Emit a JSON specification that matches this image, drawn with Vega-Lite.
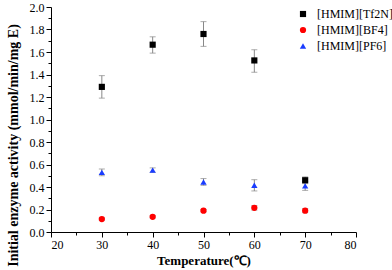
{
  "$schema": "https://vega.github.io/schema/vega-lite/v6.json",
  "width": 305,
  "height": 225,
  "autosize": {"type": "none"},
  "padding": {"left": 51, "top": 7, "right": 36, "bottom": 38},
  "background": "white",
  "config": {
    "view": {"stroke": null},
    "font": "Liberation Serif",
    "axis": {"labelFont": "Liberation Serif", "titleFont": "Liberation Serif", "labelFontSize": 12, "titleFontSize": 13, "titleFontWeight": "bold", "domainColor": "#000", "tickColor": "#000", "labelColor": "#000", "titleColor": "#000", "grid": false, "domainWidth": 1, "tickWidth": 1},
    "legend": {"labelFont": "Liberation Serif", "labelFontSize": 12, "labelColor": "#000"}
  },
  "resolve": {"axis": {"x": "independent", "y": "independent"}},
  "data": {"values": [
    {"t": 30, "s": "[HMIM][Tf2N]", "v": 1.29, "lo": 1.19, "hi": 1.39},
    {"t": 40, "s": "[HMIM][Tf2N]", "v": 1.665, "lo": 1.59, "hi": 1.735},
    {"t": 50, "s": "[HMIM][Tf2N]", "v": 1.76, "lo": 1.65, "hi": 1.87},
    {"t": 60, "s": "[HMIM][Tf2N]", "v": 1.525, "lo": 1.42, "hi": 1.62},
    {"t": 70, "s": "[HMIM][Tf2N]", "v": 0.46, "lo": 0.43, "hi": 0.49},
    {"t": 30, "s": "[HMIM][BF4]", "v": 0.115, "lo": 0.105, "hi": 0.125},
    {"t": 40, "s": "[HMIM][BF4]", "v": 0.135, "lo": 0.125, "hi": 0.145},
    {"t": 50, "s": "[HMIM][BF4]", "v": 0.19, "lo": 0.18, "hi": 0.2},
    {"t": 60, "s": "[HMIM][BF4]", "v": 0.215, "lo": 0.195, "hi": 0.235},
    {"t": 70, "s": "[HMIM][BF4]", "v": 0.19, "lo": 0.172, "hi": 0.208},
    {"t": 30, "s": "[HMIM][PF6]", "v": 0.53, "lo": 0.5, "hi": 0.56},
    {"t": 40, "s": "[HMIM][PF6]", "v": 0.55, "lo": 0.53, "hi": 0.57},
    {"t": 50, "s": "[HMIM][PF6]", "v": 0.445, "lo": 0.415, "hi": 0.475},
    {"t": 60, "s": "[HMIM][PF6]", "v": 0.415, "lo": 0.365, "hi": 0.465},
    {"t": 70, "s": "[HMIM][PF6]", "v": 0.41, "lo": 0.37, "hi": 0.45}
  ]},
  "layer": [
    {
      "mark": {"type": "rule", "color": "#888", "strokeWidth": 1},
      "encoding": {
        "x": {"field": "t", "type": "quantitative", "scale": {"domain": [20, 80], "nice": false, "zero": false},
          "axis": {"orient": "bottom", "title": null, "labels": false, "domain": false, "tickSize": 3, "values": [25,35,45,55,65,75]}},
        "y": {"field": "lo", "type": "quantitative", "scale": {"domain": [0, 2], "nice": false, "zero": false},
          "axis": {"orient": "left", "title": null, "labels": false, "domain": false, "tickSize": 3, "values": [0.1,0.3,0.5,0.7,0.9,1.1,1.3,1.5,1.7,1.9]}},
        "y2": {"field": "hi"}
      }
    },
    {
      "mark": {"type": "tick", "color": "#888", "orient": "horizontal", "size": 6, "thickness": 1},
      "encoding": {
        "x": {"field": "t", "type": "quantitative", "axis": null},
        "y": {"field": "lo", "type": "quantitative", "axis": null}
      }
    },
    {
      "mark": {"type": "tick", "color": "#888", "orient": "horizontal", "size": 6, "thickness": 1},
      "encoding": {
        "x": {"field": "t", "type": "quantitative", "axis": null},
        "y": {"field": "hi", "type": "quantitative", "axis": null}
      }
    },
    {
      "mark": {"type": "point", "filled": true, "opacity": 1},
      "encoding": {
        "x": {"field": "t", "type": "quantitative",
          "axis": {"orient": "bottom", "title": "Temperature(℃)", "values": [20,30,40,50,60,70,80], "tickSize": 5, "labelPadding": 2, "titlePadding": 4}},
        "y": {"field": "v", "type": "quantitative",
          "axis": {"orient": "left", "title": "Initial enzyme  activity (mmol/min/mg E)", "values": [0,0.2,0.4,0.6,0.8,1.0,1.2,1.4,1.6,1.8,2.0], "format": ".1f", "tickSize": 5,
            "labelPadding": 2, "titleFontSize": 14, "titleY": 138, "titleX": -31}},
        "color": {"field": "s", "type": "nominal",
          "scale": {"domain": ["[HMIM][Tf2N]", "[HMIM][BF4]", "[HMIM][PF6]"], "range": ["#000000", "#ff0000", "#1a3cff"]},
          "legend": {"title": null, "orient": "none", "legendX": 246, "legendY": 1, "rowPadding": 4, "labelOffset": 8}},
        "shape": {"field": "s", "type": "nominal",
          "scale": {"domain": ["[HMIM][Tf2N]", "[HMIM][BF4]", "[HMIM][PF6]"], "range": ["square", "circle", "triangle-up"]},
          "legend": {"title": null, "orient": "none", "legendX": 246, "legendY": 1, "rowPadding": 4, "labelOffset": 8}},
        "size": {"field": "s", "type": "nominal",
          "scale": {"domain": ["[HMIM][Tf2N]", "[HMIM][BF4]", "[HMIM][PF6]"], "range": [38, 40, 60]},
          "legend": {"title": null, "orient": "none", "legendX": 246, "legendY": 1, "rowPadding": 4, "labelOffset": 8}}
      }
    }
  ]
}
